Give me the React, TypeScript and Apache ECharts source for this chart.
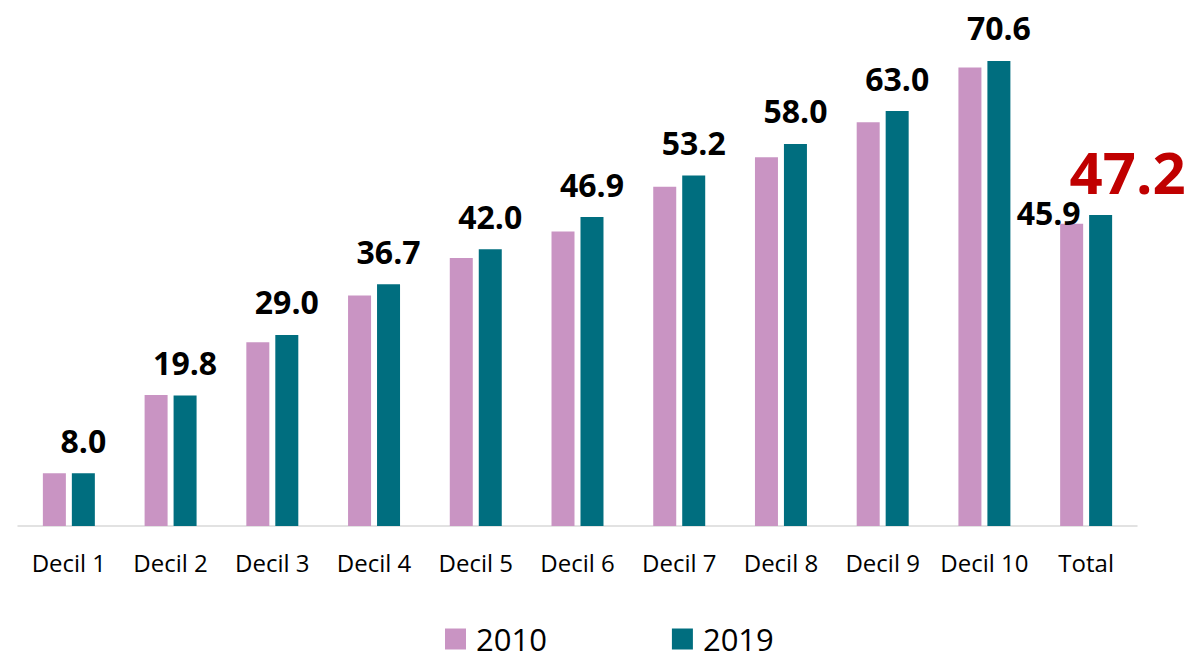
import React, { useEffect, useRef } from "react";
import * as echarts from "echarts";

const categories = ["Decil 1", "Decil 2", "Decil 3", "Decil 4", "Decil 5", "Decil 6", "Decil 7", "Decil 8", "Decil 9", "Decil 10", "Total"];
const values2010 = [8.0, 19.9, 27.9, 35.0, 40.7, 44.7, 51.5, 56.0, 61.3, 69.6, 45.9];
const values2019 = [8.0, 19.8, 29.0, 36.7, 42.0, 46.9, 53.2, 58.0, 63.0, 70.6, 47.2];
const seriesNames = ["2010", "2019"];

const FONT = "'Open Sans', 'Noto Sans', sans-serif";
const PINK = "#C994C3";
const TEAL = "#006E7F";

export default function App() {
  const ref = useRef<HTMLDivElement>(null);
  useEffect(() => {
    document.body.style.margin = "0";
    const chart = echarts.init(ref.current!, null, { renderer: "svg" });
    const last = categories.length - 1;
    chart.setOption({
      animation: false,
      textStyle: { fontFamily: FONT },
      grid: { left: 18, right: 49, top: 32, bottom: 135 },
      legend: {
        data: seriesNames,
        left: 445,
        top: 623,
        padding: 0,
        itemWidth: 21,
        itemHeight: 21,
        itemGap: 125,
        icon: "rect",
        textStyle: { fontSize: 31, color: "#000", fontFamily: FONT, lineHeight: 32, padding: [0, 0, 0, 5] },
      },
      xAxis: {
        type: "category",
        data: categories,
        axisTick: { show: false },
        axisLine: { lineStyle: { color: "#D9D9D9", width: 1.5 } },
        axisLabel: { fontSize: 24, color: "#000", margin: 24, fontFamily: FONT, interval: 0 },
      },
      yAxis: { type: "value", min: 0, max: 75, show: false, splitLine: { show: false } },
      series: [
        {
          name: seriesNames[0],
          type: "bar",
          barWidth: 23,
          barGap: "26%",
          itemStyle: { color: PINK },
          data: values2010.map((v, i) =>
            i === last
              ? {
                  value: v,
                  label: {
                    show: true,
                    position: "top",
                    distance: -5,
                    offset: [-23, 0],
                    fontSize: 32,
                    fontWeight: "bold",
                    color: "#000",
                    fontFamily: FONT,
                    formatter: (p: any) => p.value.toFixed(1),
                  },
                }
              : v
          ),
        },
        {
          name: seriesNames[1],
          type: "bar",
          barWidth: 23,
          itemStyle: { color: TEAL },
          label: {
            show: true,
            position: "top",
            distance: 17,
            fontSize: 32,
            fontWeight: "bold",
            color: "#000",
            fontFamily: FONT,
            formatter: (p: any) => p.value.toFixed(1),
          },
          data: values2019.map((v, i) =>
            i === last
              ? {
                  value: v,
                  label: {
                    fontSize: 58,
                    color: "#C00000",
                    distance: 15,
                    offset: [27, 0],
                  },
                }
              : v
          ),
        },
      ],
    });
    return () => chart.dispose();
  }, []);
  return <div ref={ref} style={{ width: 1186, height: 661 }} />;
}
